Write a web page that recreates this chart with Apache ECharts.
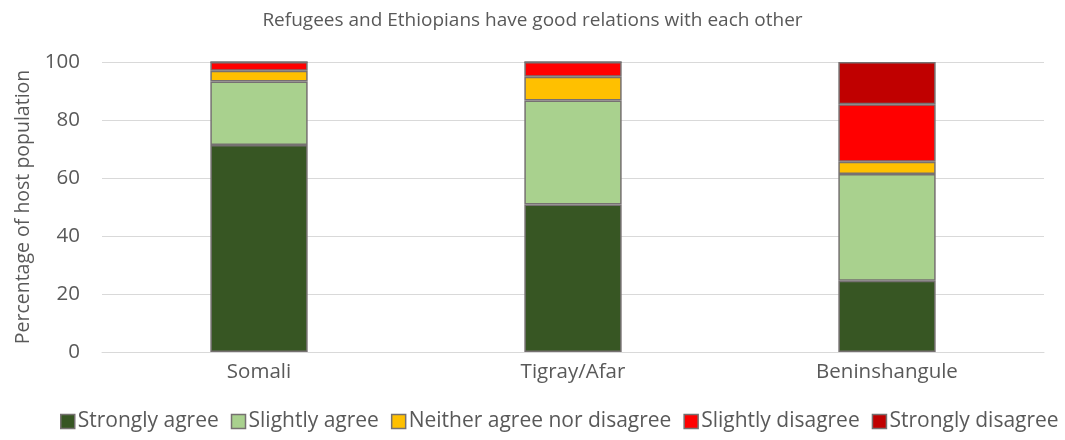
<!DOCTYPE html>
<html><head><meta charset="utf-8">
<script src="https://cdn.jsdelivr.net/npm/echarts@6/dist/echarts.min.js"></script>
<style>html,body{margin:0;padding:0;background:#fff}#c{width:1065px;height:440px}</style>
</head><body><div id="c"></div>
<script>
const categories = ['Somali', 'Tigray/Afar', 'Beninshangule'];
const stronglyAgree = [71.4, 50.9, 24.6];
const slightlyAgree = [21.9, 35.8, 36.8];
const neither = [3.7, 8.2, 4.2];
const slightlyDisagree = [3.0, 5.1, 19.8];
const stronglyDisagree = [0, 0, 14.6];
const yTicks = [0, 20, 40, 60, 80, 100];

const seriesDefs = [
  ['Strongly agree', stronglyAgree, '#375623'],
  ['Slightly agree', slightlyAgree, '#A9D18E'],
  ['Neither agree nor disagree', neither, '#FFC000'],
  ['Slightly disagree', slightlyDisagree, '#FF0000'],
  ['Strongly disagree', stronglyDisagree, '#C00000']
];
const font = 'Open Sans';
const txt = '#595959';
const chart = echarts.init(document.getElementById('c'), null, {renderer: 'canvas'});
chart.setOption({
  animation: false,
  textStyle: {fontFamily: font},
  title: {text: 'Refugees and Ethiopians have good relations with each other', left: 'center', top: 6,
    textStyle: {fontFamily: font, fontSize: 19, fontWeight: 'normal', color: txt}},
  legend: {top: 411, left: 60, width: 1065, padding: 0, itemWidth: 14, itemHeight: 14, itemGap: 12,
    icon: 'rect',
    itemStyle: {borderColor: '#767171', borderWidth: 1.5},
    textStyle: {fontFamily: font, fontSize: 21, color: txt, padding: [0, 0, 0, -2]},
    data: seriesDefs.map(s => s[0])},
  grid: {left: 102, right: 21, top: 62, bottom: 88},
  xAxis: {type: 'category', data: categories,
    axisLine: {lineStyle: {color: '#d9d9d9', width: 1}}, axisTick: {show: false},
    axisLabel: {fontFamily: font, fontSize: 20.5, color: txt, margin: 10}},
  yAxis: {type: 'value', min: yTicks[0], max: yTicks[yTicks.length - 1], interval: 20,
    name: 'Percentage of host population', nameLocation: 'middle', nameGap: 58,
    nameTextStyle: {fontFamily: font, fontSize: 19.5, color: txt},
    axisLabel: {fontFamily: font, fontSize: 20.5, color: txt, margin: 22},
    splitLine: {lineStyle: {color: '#d9d9d9', width: 1}},
    axisLine: {show: false}, axisTick: {show: false}},
  series: seriesDefs.map(s => ({
    name: s[0], type: 'bar', stack: 'total', data: s[1], barWidth: '31%',
    itemStyle: {color: s[2], borderColor: '#767171', borderWidth: 1.5}
  }))
});
</script></body></html>
